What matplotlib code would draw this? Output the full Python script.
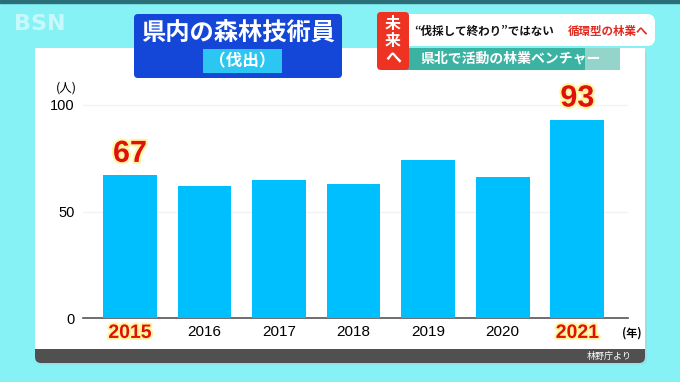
import matplotlib.pyplot as plt
import matplotlib.patheffects as pe
from matplotlib.patches import FancyBboxPatch, Rectangle

plt.rcParams['font.family'] = ['Noto Sans CJK JP', 'DejaVu Sans']

years = ['2015', '2016', '2017', '2018', '2019', '2020', '2021']
workers = [67, 62, 65, 63, 74, 66, 93]
highlight = ['2015', '2021']
y_ticks = [0, 50, 100]

title = '県内の森林技術員'
subtitle = '（伐出）'
source = '林野庁より'

W, H = 680, 382
fig = plt.figure(figsize=(6.8, 3.82), dpi=100)
fig.patch.set_facecolor('#86F2F6')

# background layer in pixel coords (y down)
bg = fig.add_axes([0, 0, 1, 1])
bg.set_xlim(0, W)
bg.set_ylim(H, 0)
bg.axis('off')

bg.add_patch(Rectangle((0, 0), W, 3, color='#2a6f78'))
# white panel + grey footer
bg.add_patch(FancyBboxPatch((37, 50), 610, 315, boxstyle='round,pad=0,rounding_size=6',
                            fc='#9adadf', ec='none', alpha=0.6))
bg.add_patch(FancyBboxPatch((35, 48), 610, 315, boxstyle='round,pad=0,rounding_size=6',
                            fc='#505050', ec='none'))
bg.add_patch(Rectangle((35, 48), 610, 301, fc='white', ec='none'))
bg.text(632, 357, source, color='white', fontsize=6.5, ha='right', va='center')

# logo
bg.text(14, 24, 'BSN', color='white', alpha=0.55, fontsize=16, fontweight='bold',
        family='DejaVu Sans', va='center', ha='left')

# title box
bg.add_patch(FancyBboxPatch((134, 14), 208, 64, boxstyle='round,pad=0,rounding_size=4',
                            fc='#1446d8', ec='none'))
bg.text(238, 33, title, color='white', fontsize=17.5, fontweight='bold', ha='center', va='center')
bg.add_patch(Rectangle((203, 49), 79, 24, fc='#2bc6f2', ec='none'))
bg.text(242, 61, subtitle, color='white', fontsize=12, fontweight='bold', ha='center', va='center')

# headline banners
bg.add_patch(FancyBboxPatch((400, 14), 255, 32, boxstyle='round,pad=0,rounding_size=8',
                            fc='white', ec='none'))
bg.add_patch(Rectangle((400, 48), 220, 22, fc='#3bb3a2', ec='none'))
bg.add_patch(Rectangle((585, 48), 35, 22, fc='white', ec='none', alpha=0.45))
bg.add_patch(FancyBboxPatch((377, 12), 32, 58, boxstyle='round,pad=0,rounding_size=4',
                            fc='#ee3322', ec='none'))
for i, ch in enumerate('未来へ'):
    bg.text(393, 24 + i * 17, ch, color='white', fontsize=11.5, fontweight='bold',
            ha='center', va='center')
bg.text(414, 31, '“伐採して終わり”ではない', color='#111111', fontsize=8.3,
        fontweight='bold', ha='left', va='center')
bg.text(568, 31, '循環型の林業へ', color='#e02a20', fontsize=8.3,
        fontweight='bold', ha='left', va='center')
bg.text(420, 59, '県北で活動の林業ベンチャー', color='white', fontsize=10,
        fontweight='bold', ha='left', va='center')

# chart
ax = fig.add_axes([83 / W, 64 / H, 545 / W, 234.3 / H])
ax.patch.set_alpha(0)
x = range(len(years))
ax.bar(x, workers, width=0.72, color='#00bfff', zorder=3)
ax.set_xlim(-0.63, 6.68)
ax.set_ylim(0, 110)
ax.set_yticks(y_ticks)
ax.set_yticklabels([str(v) for v in y_ticks], fontsize=10.5, family='Liberation Sans')
for v in [50, 100]:
    ax.axhline(v, color='#f3f3f3', lw=1, zorder=1)
for s in ['top', 'right', 'left']:
    ax.spines[s].set_visible(False)
ax.spines['bottom'].set_color('#555555')
ax.spines['bottom'].set_linewidth(1.2)
ax.tick_params(length=0, pad=6)
ax.tick_params(axis='x', pad=5)
ax.set_xticks(list(x))
ax.set_xticklabels(years, fontsize=11, family='Liberation Sans')

glow = [pe.withStroke(linewidth=3, foreground='#fff59a')]
for lbl in ax.get_xticklabels():
    if lbl.get_text() in highlight:
        lbl.set_color('#e01010')
        lbl.set_fontweight('bold')
        lbl.set_fontsize(14)
        lbl.set_path_effects(glow)

for i, (yr, v) in enumerate(zip(years, workers)):
    if yr in highlight:
        ax.text(i, v + 3, str(v), color='#e01010', fontsize=22, fontweight='bold',
                family='Liberation Sans', ha='center', va='bottom', path_effects=glow)

ax.text(-0.85, 108, '(人)', fontsize=9, ha='center', va='center')
ax.text(6.6, -7, '(年)', fontsize=8, fontweight='bold', ha='left', va='center', clip_on=False)

fig.savefig('out.png', dpi=100)
